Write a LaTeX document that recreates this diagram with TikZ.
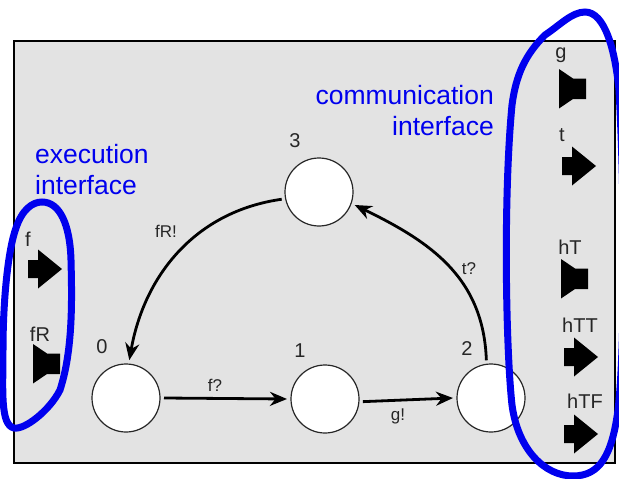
\documentclass[tikz,border=0pt]{standalone}
\usepackage{fontspec}
\setmainfont{Liberation Sans}
\usetikzlibrary{arrows.meta}
\definecolor{panelgray}{HTML}{E3E3E3}
\definecolor{loopblue}{HTML}{0000EE}
\tikzset{
    state/.style={draw=black!85, fill=white, circle, line width=1.2pt, minimum size=68pt, inner sep=0pt, outer sep=4pt},
    trans/.style={-{Stealth[length=17pt,width=14pt]}, black, line width=2.8pt},
    portname/.style={font=\fontsize{20}{20}\selectfont, text=black!85, inner sep=0pt},
    statename/.style={font=\fontsize{20}{20}\selectfont, text=black!85, inner sep=0pt},
    translabel/.style={font=\fontsize{17}{17}\selectfont, text=black!85, inner sep=0pt},
    bluetext/.style={font=\fontsize{26.5}{31}\selectfont, text=loopblue, inner sep=0pt},
    loopline/.style={draw=loopblue, line width=7pt},
    inport/.pic={\fill[black] (0,-9) -- (10,-9) -- (10,-19.5) -- (34,0) -- (10,19.5) -- (10,9) -- (0,9) -- cycle;},
    outport/.pic={\fill[black] (0,-20) -- (14,-10.5) -- (27,-10.5) -- (27,10) -- (14,10) -- (0,19.5) -- cycle;}
}
\begin{document}
\begin{tikzpicture}[x=1pt, y=-1pt]
        \useasboundingbox (0,0) rectangle (619,479);
        \clip (0,0) rectangle (619,479);
        \draw[fill=panelgray, draw=black, line width=1.6pt] (14,41) rectangle (615,463);

        % states
        \node[state] (s0) at (126,398) {};
        \node[state] (s1) at (325,399) {};
        \node[state] (s2) at (491,398) {};
        \node[state] (s3) at (319,192) {};
        \node[statename] (n0) at (102,347) {0};
        \node[statename] (n1) at (300,351) {1};
        \node[statename] (n2) at (467,349) {2};
        \node[statename] (n3) at (295,141) {3};

        % transitions
        \draw[trans] (s3.191) to[out=188, in=80] (s0.85);
        \draw[trans] (s0.east) -- (s1.west);
        \draw[trans] (s1.-4) -- (s2.west);
        \draw[trans] (s2.97) to[out=92, in=-26, looseness=1.05] (s3.-20);
        \node[translabel] (lfr) at (166,231) {fR!};
        \node[translabel] (lf) at (215,385) {f?};
        \node[translabel] (lg) at (398,416) {g!};
        \node[translabel] (lt) at (469,269) {t?};

        % ports
        \pic at (28,269) {inport};
        \pic at (33,364) {outport};
        \pic at (559,89) {outport};
        \pic at (562,166) {inport};
        \pic at (561,279) {outport};
        \pic at (564,357) {inport};
        \pic at (564,434) {inport};
        \node[portname] (pf) at (28,239) {f};
        \node[portname] (pfr) at (40,334) {fR};
        \node[portname] (pg) at (561,55) {g};
        \node[portname] (pt) at (562,135) {t};
        \node[portname] (pht) at (570,247) {hT};
        \node[portname] (phtt) at (580,325) {hTT};
        \node[portname] (phtf) at (585,401) {hTF};

        % interfaces
        \node[bluetext, align=left, anchor=west] (exec) at (35,170) {execution\\interface};
        \node[bluetext, align=right, anchor=east] (comm) at (494,111) {communication\\interface};
        \draw[loopline] (42,202) .. controls (60,202) and (70,225) .. (71,260)
            .. controls (72,300) and (73,350) .. (60,390)
            .. controls (50,410) and (25,430) .. (14,428)
            .. controls (0,425) and (3,390) .. (3,350)
            .. controls (3,300) and (8,250) .. (16,228)
            .. controls (22,210) and (32,202) .. cycle;
        \draw[loopline] (585,12) .. controls (605,12) and (615,50) .. (619,90)
            .. controls (625,200) and (625,350) .. (618,410)
            .. controls (612,455) and (600,476) .. (573,476)
            .. controls (545,476) and (518,450) .. (512,405)
            .. controls (506,350) and (503,200) .. (512,105)
            .. controls (516,75) and (525,55) .. (545,35)
            .. controls (560,25) and (572,12) .. cycle;
    \end{tikzpicture}
\end{document}
